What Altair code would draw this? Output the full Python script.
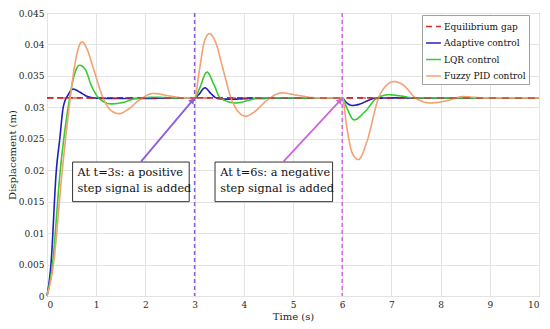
import altair as alt
import pandas as pd

# ---------------- data ----------------
series_names = ["Equilibrium gap", "Adaptive control", "LQR control", "Fuzzy PID control"]
series_colors = ["#D62728", "#1F1FC0", "#33CC33", "#F4A070"]

t_eq = [0, 10]
y_eq = [0.0315, 0.0315]

t_ad = [0, 0.08, 0.19, 0.26, 0.33, 0.43, 0.53, 0.65, 0.8, 0.95, 1.2, 3.0, 3.08, 3.21, 3.33, 3.44,
        3.6, 3.8, 4.1, 6.0, 6.08, 6.2, 6.35, 6.5, 6.64, 7.0, 10]
y_ad = [0, 0.005, 0.020, 0.025, 0.030, 0.0320, 0.0329, 0.0325, 0.0318, 0.0315, 0.0314, 0.0315, 0.0320,
        0.0331, 0.0322, 0.0315, 0.0313, 0.0313, 0.0314, 0.0315, 0.0308, 0.0303, 0.0305, 0.0310, 0.0314,
        0.0315, 0.0315]

t_lqr = [0, 0.11, 0.27, 0.43, 0.55, 0.66, 0.78, 0.9, 1.05, 1.3, 1.55, 1.8, 2.2, 2.6, 3.0, 3.1, 3.25,
         3.4, 3.52, 3.84, 4.1, 4.3, 6.0, 6.1, 6.24, 6.45, 6.71, 6.94, 7.2, 7.45, 10]
y_lqr = [0, 0.005, 0.020, 0.030, 0.0350, 0.0367, 0.0360, 0.0335, 0.0315, 0.03055, 0.0308, 0.0314,
         0.0316, 0.0315, 0.0315, 0.0330, 0.0356, 0.0335, 0.0315, 0.0307, 0.0311, 0.0315, 0.0315, 0.0298,
         0.0280, 0.0292, 0.0315, 0.0320, 0.0318, 0.0315, 0.0315]

t_fz = [0, 0.13, 0.31, 0.45, 0.55, 0.63, 0.71, 0.8, 0.95, 1.14, 1.3, 1.47, 1.65, 1.85, 2.16, 2.5, 2.8,
        3.0, 3.1, 3.2, 3.3, 3.42, 3.58, 3.74, 3.9, 4.04, 4.2, 4.5, 4.77, 5.1, 5.5, 6.0, 6.1, 6.2, 6.33,
        6.5, 6.74, 6.9, 7.05, 7.25, 7.49, 7.8, 8.1, 8.45, 8.9, 10]
y_fz = [0, 0.005, 0.020, 0.030, 0.0360, 0.0392, 0.0404, 0.0395, 0.0360, 0.0315, 0.0295, 0.0290, 0.0297,
        0.0310, 0.0322, 0.0318, 0.0315, 0.0315, 0.0360, 0.0405, 0.0417, 0.0405, 0.0360, 0.0315, 0.0292,
        0.0286, 0.0292, 0.0313, 0.0323, 0.0319, 0.0315, 0.0315, 0.0265, 0.0228, 0.0217, 0.0245, 0.0315,
        0.0335, 0.0341, 0.0335, 0.0315, 0.0307, 0.0310, 0.0317, 0.0315, 0.0315]

x_ticks = [0, 1, 2, 3, 4, 5, 6, 7, 8, 9, 10]
y_ticks = [0, 0.005, 0.01, 0.015, 0.02, 0.025, 0.03, 0.035, 0.04, 0.045]

# step markers
step_t = [3, 6]
step_colors = ["#8E5BE0", "#CC66DD"]

# annotation boxes
box_t1 = [0.52, 3.415]
box_t2 = [2.89, 5.805]
box_v1 = [0.0150, 0.0150]
box_v2 = [0.0213, 0.0213]
text_t = [0.62, 3.52]
text_line1 = ["At t=3s: a positive", "At t=6s: a negative"]
text_line2 = ["step signal is added", "step signal is added"]
text_v1 = 0.01955
text_v2 = 0.0170

# arrows
arrow_t_start = [1.915, 4.81]
arrow_v_start = [0.0214, 0.0214]
arrow_t_end = [2.96, 5.96]
arrow_v_end = [0.0311, 0.0311]
arrow_angle = [40, 43]
arrow_colors = ["#8E5BE0", "#CC66DD"]

FONT = "DejaVu Serif"

# ---------------- frames ----------------
rows = []
for name, ts, vs in [(series_names[0], t_eq, y_eq), (series_names[1], t_ad, y_ad),
                     (series_names[2], t_lqr, y_lqr), (series_names[3], t_fz, y_fz)]:
    for t, v in zip(ts, vs):
        rows.append({"series": name, "t": t, "v": v})
df = pd.DataFrame(rows)
df_eq = df[df.series == series_names[0]]

steps_df = pd.DataFrame({"t": step_t, "col": step_colors})
box_df = pd.DataFrame({"t": box_t1, "t2": box_t2, "v": box_v1, "v2": box_v2})
txt_df = pd.DataFrame({
    "t": text_t * 2,
    "v": [text_v1, text_v1, text_v2, text_v2],
    "label": text_line1 + text_line2,
})
arr_df = pd.DataFrame({"t": arrow_t_start, "v": arrow_v_start, "t2": arrow_t_end, "v2": arrow_v_end,
                       "ang": arrow_angle, "col": arrow_colors})

xscale = alt.Scale(domain=[0, 10], nice=False, zero=False)
yscale = alt.Scale(domain=[0, 0.045], nice=False, zero=False)

xaxis = alt.Axis(values=x_ticks, format="d", title="Time (s)", labelOverlap=False)
yaxis = alt.Axis(values=y_ticks, format="~g", title="Displacement (m)", labelOverlap=False)


def X(field="t"):
    return alt.X(f"{field}:Q", scale=xscale, axis=xaxis)


def Y(field="v"):
    return alt.Y(f"{field}:Q", scale=yscale, axis=yaxis)


legend = alt.Legend(title=None)

lines = alt.Chart(df).mark_line(strokeWidth=1.6, interpolate="monotone").encode(
    x=X(), y=Y(),
    color=alt.Color("series:N", scale=alt.Scale(domain=series_names, range=series_colors), legend=legend),
    strokeDash=alt.StrokeDash("series:N", scale=alt.Scale(domain=series_names,
                              range=[[6, 4], [1, 0], [1, 0], [1, 0]]), legend=legend),
)

eq_top = alt.Chart(df_eq).mark_line(strokeWidth=1.5, strokeDash=[7, 6], color=series_colors[0],
                                    opacity=0.75).encode(x=X(), y=Y())

steps = alt.Chart(steps_df).mark_rule(strokeWidth=1.5, strokeDash=[4, 3]).encode(
    x=X(), color=alt.Color("col:N", scale=None))

boxes = alt.Chart(box_df).mark_rect(fill="white", stroke="#333333", strokeWidth=1).encode(
    x=X(), x2="t2:Q", y=Y(), y2="v2:Q")

texts = alt.Chart(txt_df).mark_text(align="left", baseline="middle", font=FONT, fontSize=11.3,
                                    color="#111111").encode(x=X(), y=Y(), text="label:N")

arrows = alt.Chart(arr_df).mark_rule(strokeWidth=1.8).encode(
    x=X(), y=Y(), x2="t2:Q", y2="v2:Q", color=alt.Color("col:N", scale=None))

heads = alt.Chart(arr_df).mark_point(shape="triangle-up", filled=True, size=45, opacity=1).encode(
    x=X("t2"), y=Y("v2"), angle=alt.Angle("ang:Q", scale=None), color=alt.Color("col:N", scale=None))

chart = alt.layer(lines, eq_top, steps, arrows, heads, boxes, texts).properties(
    width=492, height=283,
    autosize=alt.AutoSizeParams(type="none"),
    padding={"left": 39, "top": 5, "right": 3, "bottom": 30},
).configure_view(
    stroke="#9A9A9A", strokeWidth=1
).configure_axis(
    gridColor="#E3E3E3", gridWidth=1, domain=False, ticks=False, labelOverlap=False,
    labelFont=FONT, labelFontSize=9, labelColor="#262626",
    titleFont=FONT, titleFontSize=10, titleColor="#262626", titleFontWeight="normal",
).configure_axisX(
    labelPadding=4, titlePadding=2,
).configure_axisY(
    labelPadding=3, titlePadding=1,
).configure_legend(
    orient="none", legendX=375, legendY=2,
    fillColor="white", strokeColor="#A0A0A0", padding=3,
    labelFont=FONT, labelFontSize=9, labelColor="#111111", labelOffset=2,
    symbolType="stroke", symbolSize=220, symbolStrokeWidth=1.6, rowPadding=2.5,
)

chart.save("out.html", embed_options={"renderer": "svg", "actions": False})
